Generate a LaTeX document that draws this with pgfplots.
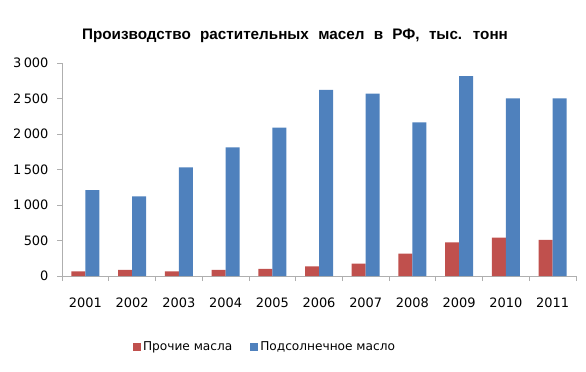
\documentclass[border=0pt]{standalone}
\usepackage{pgfplots}
\pgfplotsset{compat=1.18}
\usepackage{fontspec}
\setmainfont{DejaVu Sans}
\newfontfamily\titlefont[WordSpace=2.2]{Liberation Sans}
\definecolor{redbar}{RGB}{192,80,77}
\definecolor{bluebar}{RGB}{79,129,189}
\definecolor{axgray}{RGB}{175,175,175}
\pgfplotstableread{
x year other sun
0 2001 66 1210
1 2002 85 1120
2 2003 66 1530
3 2004 85 1810
4 2005 99 2090
5 2006 137 2620
6 2007 174 2570
7 2008 315 2165
8 2009 475 2815
9 2010 540 2500
10 2011 508 2500
}\datatable
\begin{document}
\begin{tikzpicture}[x=1bp,y=1bp]
\useasboundingbox (0,0) rectangle (586,371);
\begin{axis}[
  at={(62bp,95bp)}, anchor=south west,
  scale only axis, width=514bp, height=213bp,
  xmin=-0.5, xmax=10.5, ymin=0, ymax=3000,
  axis lines*=left,
  axis line style={axgray, line width=0.8pt},
  every tick/.style={axgray, line width=0.8pt},
  tick align=outside,
  xtick={0,...,10},
  xticklabels={2001,2002,2003,2004,2005,2006,2007,2008,2009,2010,2011},
  major x tick style={draw=none},
  minor xtick={-0.5,0.5,...,10.5},
  minor tick length=5bp,
  major tick length=5bp,
  ytick={0,500,...,3000},
  /pgf/number format/assume math mode=true,
  /pgf/number format/1000 sep={\kern2.5bp},
  yticklabel style={font=\fontsize{13}{15}\selectfont, xshift=-5bp},
  xticklabel style={font=\fontsize{13}{15}\selectfont, yshift=-13bp},
  ybar=0pt, bar width=14bp,
  legend columns=2,
  legend style={at={(0.395,-0.333)}, anchor=center, draw=none, fill=none,
    font=\fontsize{12.2}{14}\selectfont,
    /tikz/every even column/.append style={column sep=16bp}},
  legend image code/.code={\fill[#1] (-2bp,-4bp) rectangle (6bp,4bp);},
]
\addplot[fill=redbar, draw=none] table[x=x, y=other] {\datatable};
\addplot[fill=bluebar, draw=none] table[x=x, y=sun] {\datatable};
\legend{Прочие масла, Подсолнечное масло}
\end{axis}
\node[font=\titlefont\bfseries\fontsize{15.3}{17}\selectfont] at (295,335) {Производство растительных масел в РФ, тыс. тонн};
\end{tikzpicture}
\end{document}
